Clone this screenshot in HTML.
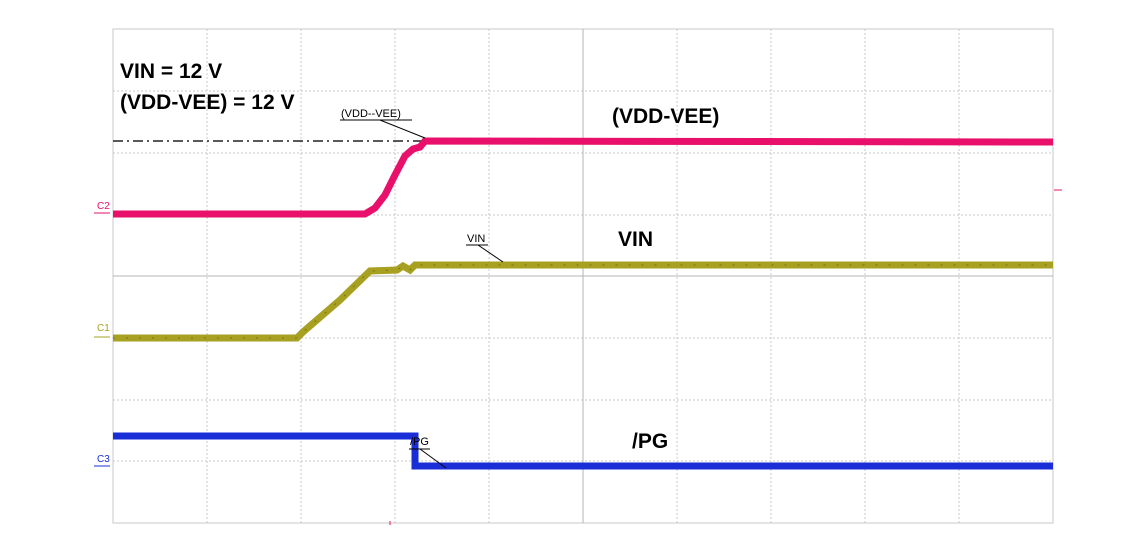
<!DOCTYPE html>
<html><head><style>
body{margin:0;background:#fff;width:1124px;height:553px;overflow:hidden;font-family:"Liberation Sans",sans-serif}
</style></head><body>
<svg width="1124" height="553" xmlns="http://www.w3.org/2000/svg">
<rect x="113" y="29" width="940" height="494" fill="none" stroke="#c8c8c8" stroke-width="1"/>
<g stroke="#c8c8c8" stroke-width="1" stroke-dasharray="2,2">
<line x1="207" y1="29" x2="207" y2="523"/><line x1="301" y1="29" x2="301" y2="523"/>
<line x1="395" y1="29" x2="395" y2="523"/><line x1="489" y1="29" x2="489" y2="523"/>
<line x1="677" y1="29" x2="677" y2="523"/><line x1="771" y1="29" x2="771" y2="523"/>
<line x1="865" y1="29" x2="865" y2="523"/><line x1="959" y1="29" x2="959" y2="523"/>
<line x1="113" y1="91" x2="1053" y2="91"/><line x1="113" y1="153" x2="1053" y2="153"/>
<line x1="113" y1="215" x2="1053" y2="215"/><line x1="113" y1="338" x2="1053" y2="338"/>
<line x1="113" y1="400" x2="1053" y2="400"/><line x1="113" y1="461" x2="1053" y2="461"/>
</g>
<line x1="113" y1="276" x2="1053" y2="276" stroke="#b4b4b4"/>
<line x1="583" y1="29" x2="583" y2="523" stroke="#b4b4b4"/>
<line x1="113" y1="141" x2="425" y2="141" stroke="#222" stroke-width="1.5" stroke-dasharray="10,4,2,4"/>
<polyline points="113,214 365,214 375,208 385,195 395,175 405,156 413,149 420,147 425,141 1053,142" fill="none" stroke="#e8106a" stroke-width="7"/>
<polyline points="113,338 297,338 303,332 340,300 370,271 397,270 403,266 410,270 415,265 1053,265" fill="none" stroke="#a8a020" stroke-width="7"/>
<polyline points="113,338 297,338 303,332 340,300 370,271 397,270 403,266 410,270 415,265 1053,265" fill="none" stroke="#7a7212" stroke-width="1" stroke-dasharray="2,11"/>
<polyline points="113,436 415,436 415,466 1053,466" fill="none" stroke="#1a2ed8" stroke-width="7"/>
<text x="97" y="209" font-size="10" fill="#e8106a">C2</text>
<line x1="94" y1="213" x2="110" y2="213" stroke="#e8106a"/>
<text x="97" y="331" font-size="10" fill="#a8a020">C1</text>
<line x1="94" y1="337" x2="110" y2="337" stroke="#a8a020"/>
<text x="97" y="462" font-size="10" fill="#1a2ed8">C3</text>
<line x1="94" y1="466" x2="110" y2="466" stroke="#1a2ed8"/>
<line x1="1054" y1="190" x2="1062" y2="190" stroke="#e8106a"/>
<line x1="390" y1="521" x2="390" y2="525" stroke="#e8106a"/>
<g font-weight="bold" font-size="21" fill="#000">
<text x="120" y="78">VIN = 12 V</text>
<text x="120" y="109">(VDD-VEE) = 12 V</text>
<text x="612" y="123">(VDD-VEE)</text>
<text x="618" y="246">VIN</text>
<text x="632" y="448">/PG</text>
</g>
<g font-size="11" fill="#000">
<text x="341" y="117">(VDD--VEE)</text>
<line x1="340" y1="120" x2="412" y2="120" stroke="#000"/>
<line x1="380" y1="120" x2="425" y2="138" stroke="#000"/>
<text x="467" y="242">VIN</text>
<line x1="466" y1="245" x2="488" y2="245" stroke="#000"/>
<line x1="478" y1="245" x2="503" y2="262" stroke="#000"/>
<text x="410" y="445">/PG</text>
<line x1="409" y1="449" x2="430" y2="449" stroke="#000"/>
<line x1="420" y1="449" x2="446" y2="468" stroke="#000"/>
</g>
</svg>
</body></html>
